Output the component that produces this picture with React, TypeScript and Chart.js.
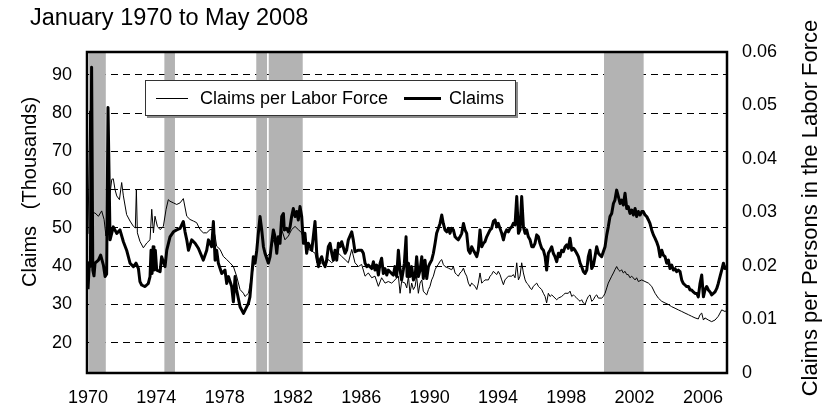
import React, { useEffect, useRef } from "react";
import { Chart, registerables } from "chart.js";

Chart.register(...registerables);

const TITLE = "January 1970 to May 2008";
const LEFT_TITLE = "Claims   (Thousands)";
const RIGHT_TITLE = "Claims per Persons in the Labor Force";
const SERIES_RATIO = "Claims per Labor Force";
const SERIES_CLAIMS = "Claims";

const yearTicks = [1970, 1974, 1978, 1982, 1986, 1990, 1994, 1998, 2002, 2006];
const claimsTicks = [20, 30, 40, 50, 60, 70, 80, 90];
const ratioTicks = [0, 0.01, 0.02, 0.03, 0.04, 0.05, 0.06];
const ratioTickLabels = ["0", "0.01", "0.02", "0.03", "0.04", "0.05", "0.06"];

const bandStarts = [1970.06, 1974.47, 1979.85, 1980.58, 2000.21];
const bandEnds = [1971.04, 1975.09, 1980.48, 1982.57, 2002.53];

const claimsDates = [
  1970.0, 1970.08, 1970.14, 1970.21, 1970.28, 1970.35, 1970.41, 1970.61, 1970.74, 1970.9,
  1971.0, 1971.09, 1971.17, 1971.29, 1971.48, 1971.68, 1971.87, 1972.07, 1972.26, 1972.46,
  1972.66, 1972.81, 1972.95, 1973.04, 1973.14, 1973.34, 1973.53, 1973.63, 1973.69, 1973.75,
  1973.81, 1973.86, 1973.94, 1974.02, 1974.22, 1974.31, 1974.51, 1974.61, 1974.8, 1975.0,
  1975.19, 1975.39, 1975.58, 1975.68, 1975.78, 1975.88, 1976.07, 1976.27, 1976.46, 1976.75,
  1976.95, 1977.05, 1977.24, 1977.34, 1977.44, 1977.53, 1977.63, 1977.83, 1978.02, 1978.12,
  1978.22, 1978.41, 1978.51, 1978.61, 1978.7, 1978.9, 1979.1, 1979.39, 1979.48, 1979.58,
  1979.68, 1979.78, 1979.88, 1979.97, 1980.07, 1980.17, 1980.27, 1980.36, 1980.56, 1980.66,
  1980.75, 1980.85, 1980.95, 1981.05, 1981.14, 1981.24, 1981.34, 1981.44, 1981.49, 1981.63,
  1981.73, 1981.83, 1981.92, 1982.02, 1982.12, 1982.22, 1982.31, 1982.41, 1982.51, 1982.61,
  1982.7, 1982.8, 1982.9, 1983.1, 1983.19, 1983.29, 1983.39, 1983.49, 1983.58, 1983.68,
  1983.78, 1983.88, 1983.97, 1984.07, 1984.17, 1984.27, 1984.36, 1984.46, 1984.56, 1984.66,
  1984.75, 1984.85, 1985.05, 1985.14, 1985.24, 1985.44, 1985.53, 1985.63, 1985.83, 1986.02,
  1986.12, 1986.22, 1986.32, 1986.41, 1986.61, 1986.71, 1986.8, 1986.9, 1987.0, 1987.1,
  1987.19, 1987.29, 1987.39, 1987.49, 1987.58, 1987.78, 1987.88, 1987.97, 1988.07, 1988.17,
  1988.27, 1988.36, 1988.46, 1988.52, 1988.62, 1988.68, 1988.76, 1988.85, 1988.95, 1989.05,
  1989.15, 1989.24, 1989.34, 1989.44, 1989.54, 1989.63, 1989.73, 1989.83, 1989.93, 1990.02,
  1990.12, 1990.22, 1990.32, 1990.41, 1990.51, 1990.61, 1990.71, 1990.8, 1990.9, 1991.0,
  1991.1, 1991.19, 1991.29, 1991.39, 1991.49, 1991.58, 1991.68, 1991.78, 1991.88, 1991.98,
  1992.07, 1992.17, 1992.27, 1992.37, 1992.46, 1992.56, 1992.66, 1992.76, 1992.85, 1992.95,
  1993.05, 1993.15, 1993.24, 1993.34, 1993.44, 1993.54, 1993.63, 1993.73, 1993.83, 1993.93,
  1994.02, 1994.12, 1994.22, 1994.32, 1994.41, 1994.51, 1994.61, 1994.71, 1994.81, 1994.9,
  1995.0, 1995.1, 1995.2, 1995.29, 1995.39, 1995.49, 1995.59, 1995.68, 1995.78, 1995.88,
  1995.98, 1996.07, 1996.17, 1996.27, 1996.37, 1996.46, 1996.56, 1996.66, 1996.76, 1996.85,
  1996.95, 1997.05, 1997.15, 1997.24, 1997.34, 1997.44, 1997.54, 1997.63, 1997.73, 1997.83,
  1997.93, 1998.03, 1998.12, 1998.22, 1998.32, 1998.42, 1998.51, 1998.61, 1998.71, 1998.81,
  1998.9, 1999.0, 1999.1, 1999.2, 1999.29, 1999.39, 1999.49, 1999.59, 1999.68, 1999.78,
  1999.88, 1999.98, 2000.07, 2000.17, 2000.27, 2000.37, 2000.46, 2000.56, 2000.66, 2000.76,
  2000.85, 2000.95, 2001.05, 2001.15, 2001.24, 2001.34, 2001.44, 2001.54, 2001.63, 2001.73,
  2001.83, 2001.93, 2002.03, 2002.12, 2002.22, 2002.32, 2002.42, 2002.51, 2002.61, 2002.71,
  2002.81, 2002.9, 2003.0, 2003.1, 2003.2, 2003.29, 2003.39, 2003.49, 2003.59, 2003.68,
  2003.78, 2003.88, 2003.98, 2004.07, 2004.17, 2004.27, 2004.37, 2004.46, 2004.56, 2004.66,
  2004.76, 2004.85, 2004.95, 2005.05, 2005.15, 2005.25, 2005.34, 2005.44, 2005.54, 2005.64,
  2005.73, 2005.83, 2005.93, 2006.03, 2006.12, 2006.22, 2006.32, 2006.42, 2006.51, 2006.61,
  2006.71, 2006.81, 2006.9, 2007.0, 2007.1, 2007.2, 2007.29, 2007.41,
];

const claimsValues = [
  34, 41, 40, 92, 39, 37.5, 40.8, 41.6, 42.9, 40.3,
  37.3, 38, 81.5, 46.9, 50.3, 48.6, 49.5, 46.4, 44.2, 40.8,
  39.9, 40.8, 39.4, 36.0, 35.1, 34.7, 35.5, 37.3, 44.2, 38.1,
  45.1, 39.0, 44.2, 39.0, 38.6, 42.5, 39.9, 44.2, 47.7, 49.0,
  49.5, 49.9, 51.7, 49.0, 46.9, 44.2, 46.9, 46.0, 44.7, 41.6,
  44.2, 46.9, 45.1, 51.7, 41.6, 44.2, 40.8, 38.1, 39.0, 35.5,
  37.3, 34.7, 30.7, 37.3, 33.8, 29.4, 27.7, 30.3, 32.0, 37.3,
  42.5, 40.8, 44.2, 48.6, 53.0, 49.5, 45.1, 43.4, 40.8, 42.5,
  46.0, 49.5, 47.7, 43.4, 47.7, 46.0, 53.0, 53.8, 49.5, 49.9,
  49.0, 50.3, 53.0, 55.1, 53.0, 54.3, 52.1, 55.6, 53.0, 46.0,
  48.6, 43.4, 46.0, 44.2, 47.7, 51.7, 43.4, 39.9, 41.6, 42.5,
  40.8, 39.9, 41.6, 45.1, 46.0, 43.4, 41.6, 44.2, 41.6, 46.0,
  45.1, 46.4, 43.4, 44.2, 46.9, 49.0, 46.9, 43.8, 44.2, 44.2,
  43.4, 40.8, 39.9, 40.3, 39.4, 41.2, 39.0, 40.3, 37.7, 40.8,
  42.1, 38.1, 39.4, 37.7, 39.0, 38.1, 37.7, 39.9, 37.3, 44.2,
  39.0, 36.4, 39.0, 40.8, 47.7, 37.3, 40.8, 37.3, 39.9, 36.4,
  37.3, 42.5, 37.3, 39.0, 42.5, 36.8, 41.6, 36.8, 39.9, 40.8,
  41.6, 43.4, 46.0, 48.6, 49.9, 51.2, 53.4, 51.2, 49.5, 49.0,
  49.9, 48.6, 49.9, 49.5, 47.7, 47.3, 46.9, 47.7, 48.6, 51.2,
  49.5, 48.6, 44.2, 43.4, 45.1, 44.2, 43.4, 42.5, 44.2, 49.5,
  45.1, 46.0, 46.4, 47.7, 48.6, 49.5, 49.9, 51.7, 52.1, 50.3,
  51.2, 49.9, 48.6, 46.9, 48.6, 49.5, 49.0, 49.9, 50.3, 51.2,
  50.8, 58.2, 48.6, 49.5, 58.2, 50.3, 48.6, 49.5, 47.7, 46.9,
  45.1, 45.1, 46.0, 48.2, 47.7, 46.0, 44.7, 44.2, 42.5, 39.0,
  43.4, 44.2, 45.1, 43.4, 42.5, 41.2, 43.4, 42.5, 44.2, 43.8,
  45.1, 45.6, 44.7, 47.3, 44.2, 44.7, 44.2, 43.4, 42.5, 40.8,
  39.9, 38.6, 38.1, 39.0, 42.5, 44.2, 39.4, 40.3, 42.5, 45.1,
  43.4, 42.9, 42.5, 43.8, 45.1, 48.2, 50.3, 53.0, 53.8, 56.4,
  57.3, 59.9, 58.2, 56.4, 57.3, 56.0, 59.1, 55.1, 55.6, 53.8,
  54.7, 53.4, 55.1, 53.0, 54.3, 53.4, 54.3, 54.3, 53.4, 53.0,
  52.1, 51.2, 49.5, 48.2, 47.3, 46.4, 45.1, 42.5, 44.2, 42.9,
  42.5, 40.8, 41.6, 39.4, 40.3, 39.0, 39.4, 38.6, 39.0, 38.6,
  36.4, 35.5, 35.1, 34.7, 34.7, 33.8, 33.8, 33.3, 32.9, 32.9,
  32.0, 35.5, 37.7, 32.0, 33.8, 34.7, 33.8, 33.3, 32.5, 32.9,
  33.3, 34.2, 35.5, 37.3, 39.0, 40.8, 39.4, 39.9,
];

const ratioDates = [
  1970.0, 1970.1, 1970.17, 1970.25, 1970.41, 1970.61, 1970.8, 1970.94, 1971.05, 1971.13, 1971.39, 1971.48,
  1971.58, 1971.68, 1971.84, 1971.97, 1972.07, 1972.26, 1972.46, 1972.66, 1972.77, 1972.83,
  1972.89, 1973.04, 1973.24, 1973.44, 1973.63, 1973.73, 1973.83, 1973.92, 1974.06, 1974.22,
  1974.41, 1974.57, 1974.7, 1974.8, 1975.0, 1975.19, 1975.39, 1975.58, 1975.78, 1975.97,
  1976.17, 1976.36, 1976.56, 1976.75, 1976.95, 1977.14, 1977.34, 1977.44, 1977.53, 1977.73,
  1977.92, 1978.12, 1978.31, 1978.51, 1978.7, 1978.9, 1979.1, 1979.19, 1979.39, 1979.58,
  1979.78, 1979.97, 1980.07, 1980.27, 1980.46, 1980.66, 1980.85, 1981.05, 1981.14, 1981.34,
  1981.53, 1981.73, 1981.92, 1982.12, 1982.31, 1982.51, 1982.7, 1982.9, 1983.1, 1983.29,
  1983.39, 1983.49, 1983.68, 1983.88, 1984.07, 1984.27, 1984.46, 1984.66, 1984.85, 1985.05,
  1985.24, 1985.44, 1985.63, 1985.83, 1986.02, 1986.22, 1986.41, 1986.61, 1986.8, 1987.0,
  1987.19, 1987.39, 1987.58, 1987.78, 1987.97, 1988.17, 1988.27, 1988.36, 1988.56, 1988.66,
  1988.76, 1988.85, 1988.95, 1989.05, 1989.15, 1989.24, 1989.34, 1989.44, 1989.54, 1989.63,
  1989.73, 1989.83, 1989.93, 1990.02, 1990.12, 1990.22, 1990.32, 1990.41, 1990.51, 1990.61,
  1990.71, 1990.8, 1990.9, 1991.1, 1991.29, 1991.39, 1991.49, 1991.58, 1991.68, 1991.78,
  1991.88, 1991.98, 1992.07, 1992.17, 1992.27, 1992.37, 1992.46, 1992.56, 1992.66, 1992.76,
  1992.85, 1992.95, 1993.05, 1993.15, 1993.24, 1993.44, 1993.54, 1993.63, 1993.73, 1993.83,
  1993.93, 1994.02, 1994.12, 1994.22, 1994.32, 1994.41, 1994.61, 1994.81, 1994.9, 1995.0,
  1995.1, 1995.2, 1995.29, 1995.39, 1995.49, 1995.59, 1995.68, 1995.78, 1995.88, 1995.98,
  1996.07, 1996.17, 1996.27, 1996.37, 1996.46, 1996.56, 1996.66, 1996.76, 1996.85, 1996.95,
  1997.05, 1997.15, 1997.34, 1997.44, 1997.54, 1997.73, 1997.83, 1997.93, 1998.12, 1998.22,
  1998.32, 1998.42, 1998.51, 1998.61, 1998.71, 1998.81, 1998.9, 1999.0, 1999.1, 1999.2,
  1999.29, 1999.39, 1999.49, 1999.59, 1999.68, 1999.78, 1999.88, 2000.07, 2000.17, 2000.27,
  2000.37, 2000.46, 2000.66, 2000.76, 2000.85, 2000.95, 2001.05, 2001.15, 2001.24, 2001.34,
  2001.44, 2001.54, 2001.63, 2001.73, 2001.83, 2002.03, 2002.12, 2002.22, 2002.42, 2002.61,
  2002.81, 2003.0, 2003.2, 2003.39, 2003.59, 2003.78, 2003.98, 2004.17, 2004.37, 2004.56,
  2004.76, 2004.95, 2005.15, 2005.34, 2005.54, 2005.73, 2005.83, 2005.93, 2006.03, 2006.12,
  2006.32, 2006.51, 2006.71, 2006.9, 2007.1, 2007.29, 2007.41,
];

const ratioValues = [
  0.026, 0.049, 0.028, 0.03, 0.0299, 0.0293, 0.0303, 0.0287, 0.0256, 0.0293, 0.0362, 0.0363,
  0.0343, 0.0331, 0.0324, 0.0356, 0.0331, 0.0296, 0.0284, 0.0274, 0.0271, 0.0343,
  0.0262, 0.0246, 0.0234, 0.0243, 0.0249, 0.0306, 0.0262, 0.0293, 0.0274, 0.0268,
  0.0274, 0.0306, 0.0324, 0.0321, 0.0318, 0.0315, 0.0318, 0.0326, 0.0293, 0.0287,
  0.0284, 0.0281, 0.0268, 0.0262, 0.0262, 0.0268, 0.0268, 0.0256, 0.0237, 0.0231,
  0.0218, 0.0212, 0.0206, 0.0199, 0.0181, 0.0156, 0.0149, 0.0143, 0.0149, 0.0181,
  0.0212, 0.0256, 0.0281, 0.0237, 0.0218, 0.0224, 0.0249, 0.0231, 0.0243, 0.0268,
  0.0249, 0.0256, 0.0268, 0.0274, 0.0268, 0.0262, 0.0243, 0.0231, 0.0228, 0.0224,
  0.0206, 0.0203, 0.0206, 0.0199, 0.0212, 0.0206, 0.0212, 0.0224, 0.0218, 0.0212,
  0.0206, 0.0231, 0.0206, 0.0199, 0.0203, 0.0181, 0.0187, 0.0178, 0.0181, 0.0162,
  0.0178, 0.0168, 0.0171, 0.0168, 0.0174, 0.0181, 0.0149, 0.0171, 0.0168, 0.0159,
  0.0181, 0.0149, 0.0168, 0.0156, 0.0162, 0.0181, 0.0149, 0.0168, 0.0174, 0.0153,
  0.0149, 0.0146, 0.0156, 0.0162, 0.0174, 0.0181, 0.0193, 0.0199, 0.0203, 0.0209,
  0.0212, 0.0203, 0.0199, 0.0196, 0.0193, 0.0199, 0.0187, 0.0184, 0.0181, 0.0187,
  0.019, 0.0196, 0.0187, 0.0181, 0.0168, 0.0162, 0.0168, 0.0165, 0.0162, 0.0156,
  0.0168, 0.0187, 0.0168, 0.0171, 0.0174, 0.0174, 0.0181, 0.0184, 0.019, 0.0187,
  0.0184, 0.019, 0.0184, 0.0174, 0.0165, 0.0174, 0.0181, 0.0181, 0.0184, 0.0178,
  0.0206, 0.0174, 0.0181, 0.0206, 0.0187, 0.0174, 0.0168, 0.0165, 0.0159, 0.0156,
  0.0162, 0.0165, 0.0168, 0.0162, 0.0159, 0.0156, 0.0149, 0.0143, 0.0131, 0.0149,
  0.0143, 0.0146, 0.014, 0.0137, 0.014, 0.0143, 0.0146, 0.0149, 0.0149, 0.0153,
  0.0143, 0.0146, 0.0143, 0.014, 0.0137, 0.0134, 0.0137, 0.0131, 0.0128, 0.0137,
  0.0143, 0.0146, 0.0134, 0.0137, 0.0143, 0.0146, 0.014, 0.014, 0.0143, 0.0149,
  0.0159, 0.0168, 0.0181, 0.0187, 0.0193, 0.0199, 0.0193, 0.019, 0.0193, 0.0187,
  0.019, 0.0184, 0.0184, 0.0178, 0.0181, 0.0174, 0.0178, 0.0171, 0.0174, 0.0171,
  0.0168, 0.0162, 0.0149, 0.014, 0.0134, 0.0131, 0.0128, 0.0124, 0.0121, 0.0118,
  0.0115, 0.0112, 0.0109, 0.0106, 0.0103, 0.0101, 0.0109, 0.0112, 0.0099, 0.0103,
  0.0099, 0.0096, 0.0099, 0.0106, 0.0118, 0.0115, 0.0117,
];

const FONT = "'Liberation Sans', Arial, Helvetica, sans-serif";

const decorPlugin = {
  id: "decor",
  beforeDatasetsDraw(chart: any) {
    const { ctx, chartArea, scales } = chart;
    ctx.save();
    ctx.fillStyle = "#b3b3b3";
    for (let i = 0; i < bandStarts.length; i++) {
      const x0 = scales.x.getPixelForValue(bandStarts[i]);
      const x1 = scales.x.getPixelForValue(bandEnds[i]);
      ctx.fillRect(x0, chartArea.top, x1 - x0, chartArea.bottom - chartArea.top);
    }
    ctx.restore();
  },
  afterDraw(chart: any) {
    const { ctx, chartArea } = chart;
    ctx.save();
    ctx.strokeStyle = "#000";
    ctx.lineWidth = 2.5;
    ctx.strokeRect(chartArea.left, chartArea.top, chartArea.right - chartArea.left, chartArea.bottom - chartArea.top);

    const lx = 145, ly = 80, lw = 371, lh = 36;
    ctx.fillStyle = "#8c8c8c";
    ctx.fillRect(lx + 2, ly + 2, lw, lh);
    ctx.fillStyle = "#fff";
    ctx.fillRect(lx, ly, lw, lh);
    ctx.strokeStyle = "#333";
    ctx.lineWidth = 1;
    ctx.strokeRect(lx + 0.5, ly + 0.5, lw - 1, lh - 1);

    const ds = chart.data.datasets;
    ctx.strokeStyle = "#000";
    ctx.lineWidth = 1;
    ctx.beginPath();
    ctx.moveTo(156, 98.5);
    ctx.lineTo(188, 98.5);
    ctx.stroke();
    ctx.lineWidth = 3;
    ctx.beginPath();
    ctx.moveTo(404, 98.5);
    ctx.lineTo(441, 98.5);
    ctx.stroke();

    ctx.fillStyle = "#000";
    ctx.font = `18px ${FONT}`;
    ctx.textBaseline = "middle";
    ctx.textAlign = "left";
    ctx.fillText(ds[0].label, 200, 99);
    ctx.fillText(ds[1].label, 449, 99);

    ctx.font = `23.5px ${FONT}`;
    ctx.textBaseline = "alphabetic";
    ctx.fillText(TITLE, 30, 25);

    ctx.save();
    ctx.translate(30, 287);
    ctx.rotate(-Math.PI / 2);
    ctx.font = `20px ${FONT}`;
    ctx.textBaseline = "middle";
    ctx.textAlign = "left";
    ctx.fillText(LEFT_TITLE, 0, 0);
    ctx.restore();

    ctx.save();
    ctx.translate(811, 208);
    ctx.rotate(-Math.PI / 2);
    ctx.font = `22px ${FONT}`;
    ctx.textBaseline = "middle";
    ctx.textAlign = "center";
    ctx.fillText(RIGHT_TITLE, 0, 0);
    ctx.restore();

    ctx.restore();
  },
};

export default function App() {
  const canvasRef = useRef<HTMLCanvasElement | null>(null);

  useEffect(() => {
    const canvas = canvasRef.current;
    if (!canvas) return;
    const tickFont = { family: FONT, size: 18 };
    const chart = new Chart(canvas, {
      type: "line",
      data: {
        datasets: [
          {
            label: SERIES_RATIO,
            data: ratioDates.map((d, i) => ({ x: d, y: ratioValues[i] })),
            yAxisID: "y1",
            borderColor: "#000",
            borderWidth: 1,
            pointRadius: 0,
            tension: 0,
            order: 1,
          },
          {
            label: SERIES_CLAIMS,
            data: claimsDates.map((d, i) => ({ x: d, y: claimsValues[i] })),
            yAxisID: "y",
            borderColor: "#000",
            borderWidth: 3,
            borderJoinStyle: "round",
            pointRadius: 0,
            tension: 0,
            order: 0,
          },
        ],
      },
      options: {
        responsive: false,
        animation: false,
        layout: { padding: { top: 52, left: 0, right: 0, bottom: 0 } },
        plugins: {
          legend: { display: false },
          title: { display: false },
          tooltip: { enabled: false },
        },
        scales: {
          x: {
            type: "linear",
            min: 1969.94,
            max: 2007.41,
            afterBuildTicks: (axis: any) => {
              axis.ticks = yearTicks.map((v) => ({ value: v }));
            },
            afterFit: (axis: any) => {
              axis.height = 41;
            },
            ticks: {
              font: tickFont,
              color: "#000",
              padding: 14,
              maxRotation: 0,
              autoSkip: false,
              callback: (v: any) => String(v),
            },
            grid: { display: false, drawTicks: false },
            border: { display: false },
          },
          y: {
            type: "linear",
            position: "left",
            min: 12.1,
            max: 96,
            afterBuildTicks: (axis: any) => {
              axis.ticks = claimsTicks.map((v) => ({ value: v }));
            },
            afterFit: (axis: any) => {
              axis.width = 87;
            },
            ticks: { font: tickFont, color: "#000", padding: 15, callback: (v: any) => String(v) },
            grid: { color: "#000", lineWidth: 1, drawTicks: false },
            border: { display: false, dash: [7, 5] },
          },
          y1: {
            type: "linear",
            position: "right",
            min: 0,
            max: 0.06,
            afterBuildTicks: (axis: any) => {
              axis.ticks = ratioTicks.map((v) => ({ value: v }));
            },
            afterFit: (axis: any) => {
              axis.width = 103;
            },
            ticks: {
              font: tickFont,
              color: "#000",
              padding: 15,
              callback: (v: any) => {
                const idx = ratioTicks.findIndex((t) => Math.abs(t - v) < 1e-9);
                return idx >= 0 ? ratioTickLabels[idx] : "";
              },
            },
            grid: { drawOnChartArea: false, drawTicks: false },
            border: { display: false },
          },
        },
      },
      plugins: [decorPlugin],
    } as any);
    return () => chart.destroy();
  }, []);

  return (
    <div style={{ position: "absolute", left: 0, top: 0, width: 830, height: 414, background: "#fff" }}>
      <canvas ref={canvasRef} width={830} height={414} />
    </div>
  );
}
